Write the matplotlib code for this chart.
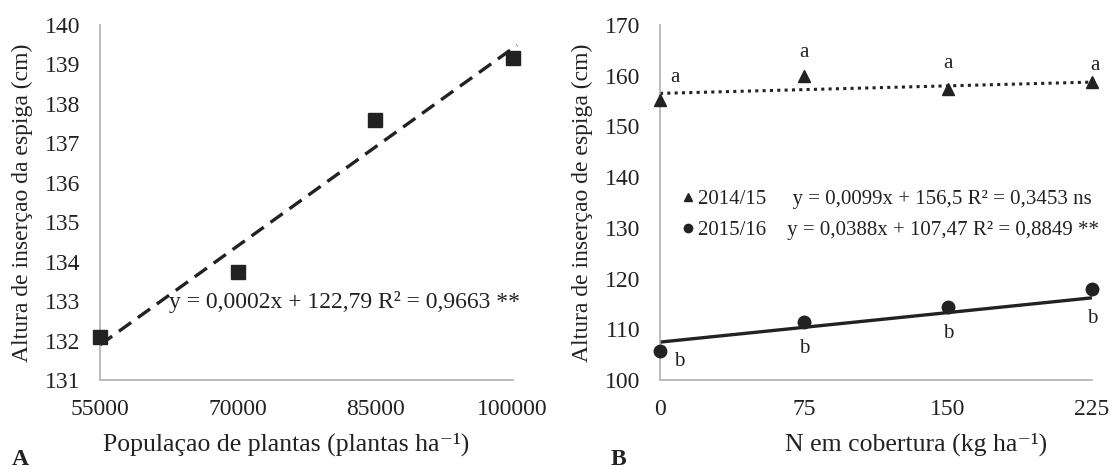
import numpy as np
import matplotlib
matplotlib.use('Agg')
import matplotlib.pyplot as plt
from matplotlib.lines import Line2D

plt.rcParams['font.family'] = ['Liberation Serif', 'DejaVu Serif']

# Panel A - plant population
pop = [55000, 70000, 85000, 100000]
alt_pop = [132.1, 133.73, 137.6, 139.16]
eq_a = 'y = 0,0002x + 122,79 R² = 0,9663 **'

# Panel B - N rates
n_rate = [0, 75, 150, 225]
alt_1415 = [155.2, 160.0, 157.4, 158.8]
alt_1516 = [105.8, 111.4, 114.4, 117.9]
lab_1415 = ['a', 'a', 'a', 'a']
lab_1516 = ['b', 'b', 'b', 'b']
coef_1415 = (0.0099, 156.5)
coef_1516 = (0.0388, 107.47)
eq_1415 = '2014/15     y = 0,0099x + 156,5 R² = 0,3453 ns'
eq_1516 = '2015/16    y = 0,0388x + 107,47 R² = 0,8849 **'

txt = '#222222'
spine_c = '#b0b0b0'
fs = 17

fig = plt.figure(figsize=(11.12, 4.70), dpi=100, facecolor='w')
axA = fig.add_axes([0.0899, 0.1915, 0.3711, 0.7555])
axB = fig.add_axes([0.5935, 0.1915, 0.3885, 0.7555])

for ax in (axA, axB):
    for s in ('top', 'right'):
        ax.spines[s].set_visible(False)
    for s in ('left', 'bottom'):
        ax.spines[s].set_color(spine_c)
        ax.spines[s].set_linewidth(1.2)
    ax.tick_params(length=0, labelsize=fs, colors=txt, pad=14)

## A
p = np.polyfit(pop, alt_pop, 1)
xx = np.array([pop[0], pop[-1] + 500])
axA.plot(xx, np.polyval(p, xx), ls=(0, (4.5, 2.5)), color='#222222', lw=2.4, clip_on=False)
axA.plot(pop, alt_pop, 's', color='#222222', ms=9.5, clip_on=False, zorder=3)
axA.set_xlim(55000, 100000)
axA.set_ylim(131, 140)
axA.set_xticks(pop)
axA.set_yticks(range(131, 141))
axA.text(0.593, 0.22, eq_a, transform=axA.transAxes, ha='center', va='center',
         fontsize=fs, color=txt)
axA.set_xlabel('Populaçao de plantas (plantas ha⁻¹)', fontsize=18.5, color=txt)
axA.xaxis.set_label_coords(0.45, -0.148)
axA.set_ylabel('Altura de inserçao da espiga (cm)', fontsize=fs, color=txt, labelpad=9)

## B
xb = np.array([0, 225])
axB.plot(xb, coef_1415[0] * xb + coef_1415[1], ls=(0, (1, 1.4)), color='#222222', lw=2.2)
axB.plot(xb, coef_1516[0] * xb + coef_1516[1], ls='-', color='#222222', lw=2.4)
axB.plot(n_rate, alt_1415, '^', color='#222222', ms=9, clip_on=False, zorder=3)
axB.plot(n_rate, alt_1516, 'o', color='#222222', ms=9, clip_on=False, zorder=3)
axB.set_xlim(0, 225)
axB.set_ylim(100, 170)
axB.set_xticks(n_rate)
axB.set_yticks(range(100, 171, 10))

# letters
a_off = [(11, 16), (0, 16.5), (0, 18), (2, 11.5)]
b_off = [(14, -8), (0, -19), (0, -19), (0, -21)]
for i in range(4):
    axB.annotate(lab_1415[i], (n_rate[i], alt_1415[i]), xytext=a_off[i], textcoords='offset points',
                 ha='center', va='center', fontsize=15, color=txt, annotation_clip=False)
    axB.annotate(lab_1516[i], (n_rate[i], alt_1516[i]), xytext=b_off[i], textcoords='offset points',
                 ha='center', va='center', fontsize=15, color=txt, annotation_clip=False)

handles = [Line2D([], [], ls='none', marker='^', color='#222222', ms=6),
           Line2D([], [], ls='none', marker='o', color='#222222', ms=6)]
axB.legend(handles, [eq_1415, eq_1516], loc='center left', bbox_to_anchor=(0.03, 0.465),
           frameon=False, fontsize=15, handlelength=0.6, handletextpad=0.2,
           labelspacing=0.55, labelcolor=txt, borderaxespad=0)

axB.set_xlabel('N em cobertura (kg ha⁻¹)', fontsize=18.5, color=txt)
axB.xaxis.set_label_coords(0.593, -0.148)
axB.set_ylabel('Altura de inserçao de espiga (cm)', fontsize=fs, color=txt, labelpad=9)

fig.text(0.011, 0.0, 'A', fontsize=fs, fontweight='bold', color=txt, va='bottom')
fig.text(0.549, 0.0, 'B', fontsize=fs, fontweight='bold', color=txt, va='bottom')

plt.savefig('out.png', dpi=100)
